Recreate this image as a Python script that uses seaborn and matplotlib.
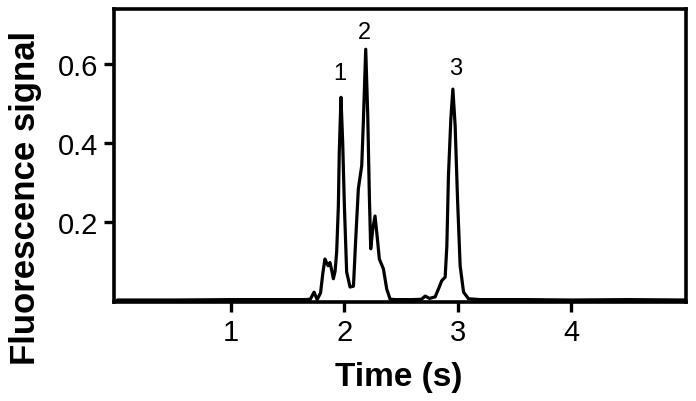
import matplotlib
matplotlib.use("Agg")
import matplotlib.pyplot as plt
import seaborn as sns
import pandas as pd

# ---- data ----
time_s = [0.00, 0.50, 1.00, 1.50, 1.65, 1.70, 1.733, 1.76, 1.79, 1.81, 1.829, 1.845,
          1.856, 1.873, 1.89, 1.903, 1.918, 1.932, 1.947, 1.955, 1.970, 1.985, 2.000,
          2.020, 2.050, 2.080, 2.100, 2.123, 2.153, 2.167, 2.188, 2.206, 2.220, 2.232,
          2.250, 2.270, 2.291, 2.308, 2.344, 2.373, 2.403, 2.45, 2.60, 2.68, 2.712,
          2.75, 2.80, 2.829, 2.858, 2.888, 2.903, 2.917, 2.938, 2.956, 2.976, 2.997,
          3.020, 3.050, 3.094, 3.20, 3.60, 4.00, 4.50, 5.00]
signal = [0.002, 0.002, 0.003, 0.003, 0.003, 0.004, 0.022, 0.003, 0.02, 0.07, 0.106,
          0.095, 0.089, 0.097, 0.075, 0.056, 0.075, 0.124, 0.241, 0.377, 0.516, 0.402,
          0.241, 0.073, 0.035, 0.037, 0.157, 0.284, 0.343, 0.453, 0.638, 0.469, 0.267,
          0.132, 0.182, 0.215, 0.157, 0.106, 0.081, 0.03, 0.004, 0.003, 0.003, 0.004,
          0.012, 0.006, 0.01, 0.03, 0.051, 0.06, 0.14, 0.317, 0.461, 0.537, 0.444,
          0.258, 0.089, 0.022, 0.005, 0.003, 0.003, 0.002, 0.003, 0.002]

peak_labels = ["1", "2", "3"]
peak_x = [1.962, 2.173, 2.976]
peak_y = [0.577, 0.681, 0.590]

x_ticks = [1, 2, 3, 4]
y_ticks = [0.2, 0.4, 0.6]

sns.set_theme(style="ticks")
plt.rcParams["font.family"] = ["Liberation Sans", "DejaVu Sans"]

df = pd.DataFrame({"Time (s)": time_s, "Fluorescence signal": signal})

fig = plt.figure(figsize=(6.96, 4.02), dpi=100)
ax = fig.add_axes([0.1638, 0.2463, 0.8218, 0.7287])

sns.lineplot(data=df, x="Time (s)", y="Fluorescence signal", ax=ax,
             color="black", linewidth=2.3, estimator=None, sort=False)
for ln in ax.lines:
    ln.set_solid_joinstyle("round")

for lab, px, py in zip(peak_labels, peak_x, peak_y):
    ax.text(px, py, lab, ha="center", va="center", fontsize=17, color="black")

ax.set_xlim(-0.03, 5.01)
ax.set_ylim(-0.003, 0.74)
ax.set_xticks(x_ticks)
ax.set_xticklabels([str(v) for v in x_ticks])
ax.set_yticks(y_ticks)
ax.set_yticklabels([f"{v:.1f}" for v in y_ticks])

for sp in ax.spines.values():
    sp.set_visible(True)
    sp.set_linewidth(2.6)
    sp.set_color("black")

ax.tick_params(axis="both", direction="out", length=7.5, width=2.4,
               colors="black", labelsize=21)
ax.tick_params(axis="x", pad=4)
ax.tick_params(axis="y", pad=4)

ax.set_xlabel("Time (s)", fontsize=24, fontweight="bold", color="black")
ax.set_ylabel("Fluorescence signal", fontsize=25, fontweight="bold", color="black")
ax.xaxis.set_label_coords(0.497, -0.255)
ax.yaxis.set_label_coords(-0.154, 0.36)
ax.yaxis.label.set_va("center")
ax.xaxis.label.set_va("center")
ax.grid(False)

fig.savefig("out.png", dpi=100)
